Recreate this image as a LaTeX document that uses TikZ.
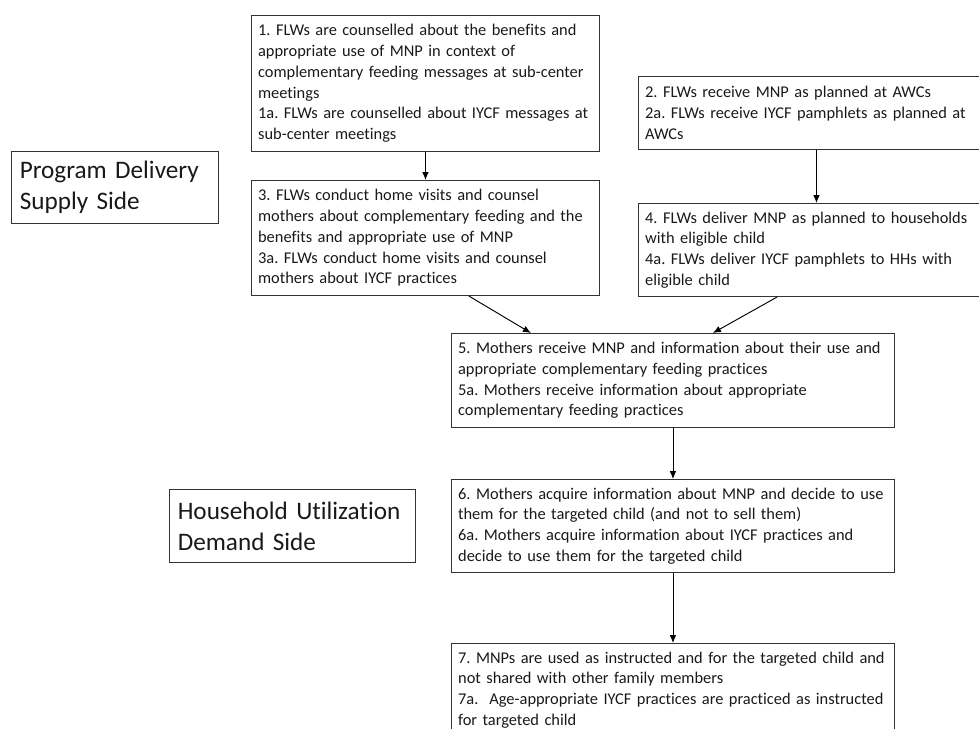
\documentclass[tikz,border=0pt]{standalone}
\usepackage{fontspec}
\setmainfont{Carlito}[Ligatures=NoCommon]
\usetikzlibrary{positioning,calc,arrows.meta}
\frenchspacing

\begin{document}
\begin{tikzpicture}[x=0.03cm,y=-0.03cm,>={Latex[length=2.4mm,width=2mm]}]
	
	\tikzset{
		stepbox/.style={draw=black!80, line width=0.8pt, align=left, anchor=north west,
			inner xsep=0.2cm, inner ysep=4pt, text=black!90,
			font=\fontsize{14pt}{17.7pt}\selectfont},
		sidebox/.style={draw=black!80, line width=0.8pt, align=left, anchor=north west,
			inner xsep=0.25cm, inner ysep=4pt, text=black!90,
			font=\fontsize{21.5pt}{26.5pt}\selectfont},
		flow/.style={->, line width=0.8pt, black}
	}
	
	\useasboundingbox (0,0) rectangle (979,729);
	\clip (0,0) rectangle (979,729);
	
	% ===== KHUNG BEN TRAI (nhan) =====
	\node[sidebox, text width=5.71cm, minimum height=2.16cm] (supply) at (11,151)
	{Program Delivery\\Supply Side};
	
	\node[sidebox, text width=6.88cm, minimum height=2.19cm] (demand) at (169,489)
	{Household Utilization\\Demand Side};
	
	% ===== CAC BUOC (cot trai tren) =====
	\node[stepbox, text width=10.04cm, minimum height=4.08cm] (b1) at (251,15)
	{%
		1. FLWs are counselled about the benefits and\\
		appropriate use of MNP in context of\\
		complementary feeding messages at sub-center\\
		meetings\\
		1a. FLWs are counselled about IYCF messages at\\
		sub-center meetings
	};
	
	\node[stepbox, text width=10.04cm, minimum height=3.45cm] (b3) at (251,180)
	{%
		3. FLWs conduct home visits and counsel\\
		mothers about complementary feeding and the\\
		benefits and appropriate use of MNP\\
		3a. FLWs conduct home visits and counsel\\
		mothers about IYCF practices
	};
	
	% ===== CAC BUOC (cot phai tren) =====
	\node[stepbox, text width=10.28cm, minimum height=2.19cm] (b2) at (638,76)
	{%
		2. FLWs receive MNP as planned at AWCs\\
		2a. FLWs receive IYCF pamphlets as planned at\\
		AWCs
	};
	
	\node[stepbox, text width=10.28cm, minimum height=2.79cm] (b4) at (638,203)
	{%
		4. FLWs deliver MNP as planned to households\\
		with eligible child\\
		4a. FLWs deliver IYCF pamphlets to HHs with\\
		eligible child
	};
	
	% ===== CAC BUOC (giua, phia duoi) =====
	\node[stepbox, text width=12.89cm, minimum height=2.82cm] (b5) at (451,333)
	{%
		5. Mothers receive MNP and information about their use and\\
		appropriate complementary feeding practices\\
		5a. Mothers receive information about appropriate\\
		complementary feeding practices
	};
	
	\node[stepbox, text width=12.89cm, minimum height=2.79cm] (b6) at (451,479)
	{%
		6. Mothers acquire information about MNP and decide to use\\
		them for the targeted child (and not to sell them)\\
		6a. Mothers acquire information about IYCF practices and\\
		decide to use them for the targeted child
	};
	
	\node[stepbox, text width=12.89cm, minimum height=2.79cm] (b7) at (451,643)
	{%
		7. MNPs are used as instructed and for the targeted child and\\
		not shared with other family members\\
		7a.~ Age-appropriate IYCF practices are practiced as instructed\\
		for targeted child
	};
	
	% ===== MUI TEN =====
	\draw[flow] (b1.south) -- (b3.north);
	\draw[flow] (b2.south) -- (b4.north);
	
	\draw[flow] ($(b3.south west)!0.624!(b3.south east)$)
	-- ($(b5.north west)!0.18!(b5.north east)$);
	\draw[flow] ($(b4.south west)!0.39!(b4.south east)$)
	-- ($(b5.north west)!0.59!(b5.north east)$);
	
	\draw[flow] (b5.south) -- (b6.north);
	\draw[flow] (b6.south) -- (b7.north);
	
\end{tikzpicture}
\end{document}
